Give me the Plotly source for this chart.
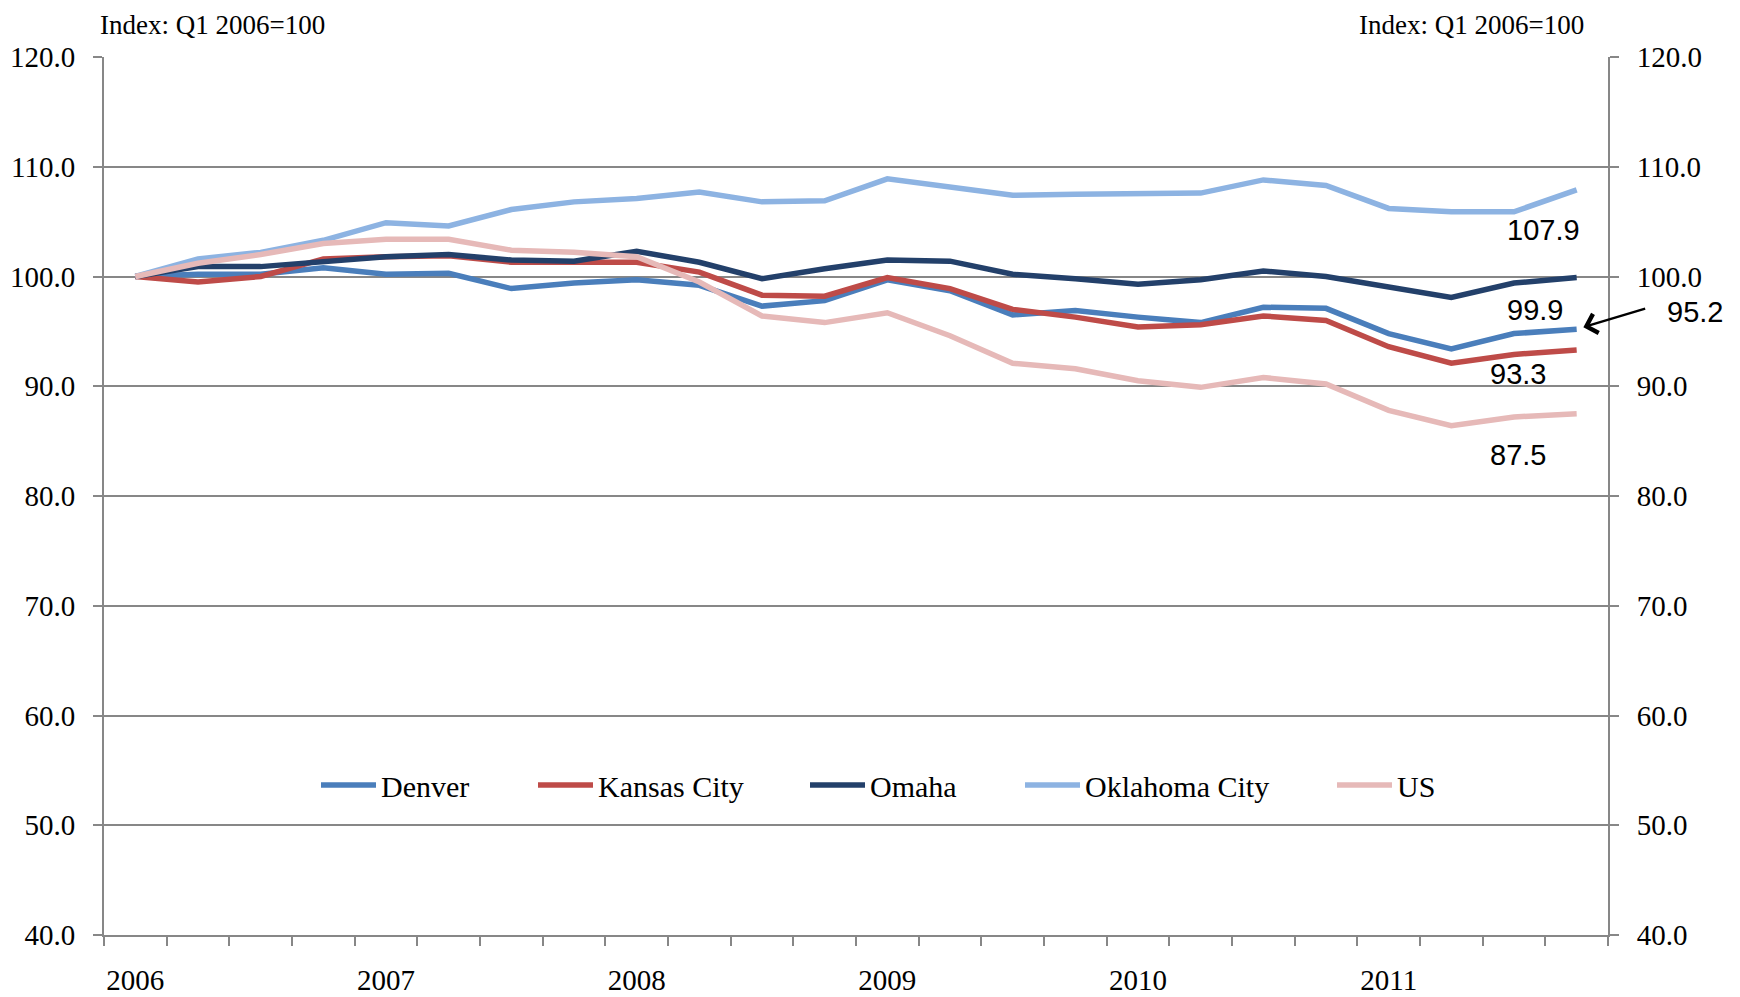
import plotly.graph_objects as go

quarters = [f"Q{q} {y}" for y in range(2006, 2012) for q in range(1, 5)]
year_labels = ["2006", "2007", "2008", "2009", "2010", "2011"]

denver = [100.0, 100.2, 100.2, 100.8, 100.2, 100.3, 98.9, 99.4, 99.7, 99.2, 97.3, 97.8,
          99.7, 98.7, 96.5, 96.9, 96.3, 95.8, 97.2, 97.1, 94.8, 93.4, 94.8, 95.2]
kansas_city = [100.0, 99.5, 100.0, 101.6, 101.8, 101.9, 101.3, 101.3, 101.3, 100.4, 98.3, 98.2,
               99.9, 98.9, 97.0, 96.3, 95.4, 95.6, 96.4, 96.0, 93.6, 92.1, 92.9, 93.3]
omaha = [100.0, 100.9, 100.9, 101.4, 101.8, 102.0, 101.5, 101.4, 102.3, 101.3, 99.8, 100.7,
         101.5, 101.4, 100.2, 99.8, 99.3, 99.7, 100.5, 100.0, 99.1, 98.1, 99.4, 99.9]
oklahoma_city = [100.0, 101.6, 102.2, 103.3, 104.9, 104.6, 106.1, 106.8, 107.1, 107.7, 106.8, 106.9,
                 108.9, 108.2, 107.4, 107.5, 107.6, 107.6, 108.8, 108.3, 106.2, 105.9, 105.9, 107.9]
us = [100.0, 101.2, 102.0, 103.0, 103.4, 103.4, 102.4, 102.2, 101.8, 99.5, 96.4, 95.8,
      96.7, 94.6, 92.1, 91.6, 90.5, 89.9, 90.8, 90.2, 87.8, 86.4, 87.2, 87.5]

series = [
    ("Denver", denver, "#4A7EBB"),
    ("Kansas City", kansas_city, "#BE4B48"),
    ("Omaha", omaha, "#23406A"),
    ("Oklahoma City", oklahoma_city, "#8DB3E2"),
    ("US", us, "#E6B9B8"),
]

SERIF = "Liberation Serif"
SANS = "Liberation Sans"
GRID = "#878787"

# the page body adds an 8px offset; positions below are in reference pixels
OFF = 8
W, H = 1740, 997
PLOT_L, PLOT_R, PLOT_T, PLOT_B = 104, 1608, 57, 935
L = PLOT_L - OFF
T = PLOT_T - OFF
R = W - (PLOT_R - OFF)
B = H - (PLOT_B - OFF)
PW = PLOT_R - PLOT_L
PH = PLOT_B - PLOT_T

def px_x(p):
    return (p - PLOT_L) / PW

def px_y(p):
    return (PLOT_B - p) / PH

fig = go.Figure()
idx = list(range(len(quarters)))
legend_text_x = [380, 597, 869, 1084, 1396]
for k, (name, vals, col) in enumerate(series):
    lname = "legend" if k == 0 else f"legend{k+1}"
    fig.add_trace(go.Scatter(
        x=idx, y=vals, name=name, mode="lines",
        line=dict(color=col, width=5.5),
        legend=lname, hovertext=quarters,
    ))

fig.add_trace(go.Scatter(x=idx, y=us, yaxis="y2", mode="lines",
                         line=dict(width=0), showlegend=False, hoverinfo="skip"))

legend_cfg = {}
for k in range(len(series)):
    lname = "legend" if k == 0 else f"legend{k+1}"
    legend_cfg[lname] = dict(
        x=px_x(legend_text_x[k] - 64), y=px_y(785), xanchor="left", yanchor="middle",
        orientation="h", bgcolor="rgba(0,0,0,0)", itemwidth=55,
        font=dict(family=SERIF, size=30, color="#000"),
    )

yaxis_common = dict(
    range=[40, 120], dtick=10, tick0=40, tickformat=".1f",
    ticks="outside", ticklen=9, tickwidth=2, tickcolor=GRID,
    showline=True, linecolor=GRID, linewidth=2,
    tickfont=dict(family=SERIF, size=29, color="#000"),
    zeroline=False, automargin=False, ticklabelstandoff=12,
)

fig.update_layout(
    width=W, height=H,
    margin=dict(l=L, r=R, t=T, b=B),
    plot_bgcolor="white", paper_bgcolor="white",
    xaxis=dict(
        range=[-0.5, 23.5],
        tickvals=[0, 4, 8, 12, 16, 20], ticktext=year_labels,
        ticks="", showgrid=False, zeroline=False,
        showline=True, linecolor=GRID, linewidth=2,
        tickfont=dict(family=SERIF, size=29, color="#000"),
        ticklabelstandoff=18, automargin=False,
        minor=dict(ticks="outside", tick0=-0.5, dtick=1, ticklen=9,
                   tickwidth=2, tickcolor=GRID, showgrid=False),
    ),
    yaxis=dict(**yaxis_common, side="left", showgrid=True, gridcolor=GRID, gridwidth=2),
    yaxis2=dict(**yaxis_common, side="right", overlaying="y", showgrid=False),
    **legend_cfg,
)

annotations = [
    dict(text="Index: Q1 2006=100", x=px_x(99), y=px_y(OFF + 1), xref="paper", yref="paper",
         xanchor="left", yanchor="top", showarrow=False, borderpad=0,
         font=dict(family=SERIF, size=27, color="#000")),
    dict(text="Index: Q1 2006=100", x=px_x(1585), y=px_y(OFF + 1), xref="paper", yref="paper",
         xanchor="right", yanchor="top", showarrow=False, borderpad=0,
         font=dict(family=SERIF, size=27, color="#000")),
]

labels = [
    ("107.9", 1543, 230),
    ("99.9", 1535, 310),
    ("93.3", 1518, 374),
    ("87.5", 1518, 455),
    ("95.2", 1695, 312),
]
for txt, lx, ly in labels:
    annotations.append(dict(text=txt, x=px_x(lx), y=px_y(ly), xref="paper", yref="paper",
                            xanchor="center", yanchor="middle", showarrow=False,
                            font=dict(family=SANS, size=29, color="#000")))

annotations.append(dict(
    text="", x=23, y=denver[-1], xref="x", yref="y",
    ax=70, ay=-21, axref="pixel", ayref="pixel",
    showarrow=True, arrowhead=4, arrowsize=1.6, arrowwidth=2.4,
    arrowcolor="#000", standoff=7,
))

fig.update_layout(annotations=annotations)

fig.write_html("out.html")
